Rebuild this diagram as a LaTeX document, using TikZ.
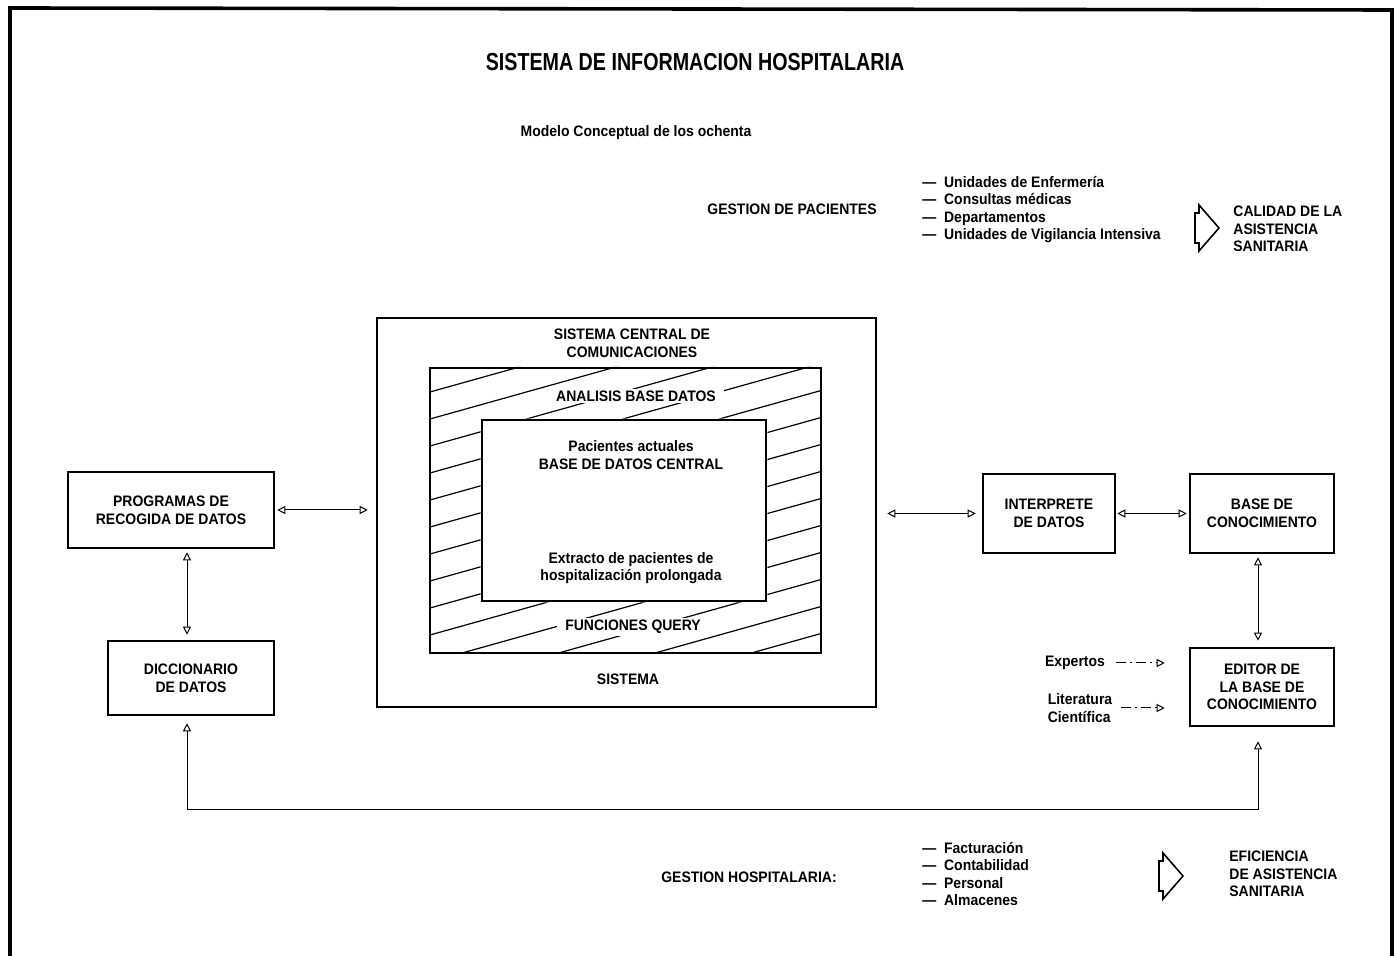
\documentclass[tikz,border=0pt]{standalone}
\usepackage{fontspec}
\setmainfont{Liberation Sans}[FakeStretch=0.92]
\newfontfamily\titulofont{Liberation Sans}[FakeStretch=0.8]
\usetikzlibrary{arrows.meta}
\newcommand{\flecha}[1]{\draw[line width=0.8pt, line join=miter, shift={(#1)}] (0,-15) -- (4,-15) -- (4,-23) -- (24,0) -- (4,23) -- (4,15) -- (0,15) -- cycle}

\begin{document}
\begin{tikzpicture}[x=0.5pt,y=-0.5pt,
    font=\bfseries\fontsize{7.6}{8.8}\selectfont,
    caja/.style={draw, line width=1.3pt, align=center, inner sep=0pt},
    etiq/.style={align=center, inner sep=1pt},
    lista/.style={align=left, anchor=west, inner sep=0pt},
    flecha2/.style={{Triangle[open,length=4pt,width=4pt]}-{Triangle[open,length=4pt,width=4pt]}, line width=0.5pt},
    punteada/.style={-{Triangle[open,length=4pt,width=4pt]}, line width=0.5pt, dash pattern=on 5pt off 2pt on 1pt off 2pt}]
    \useasboundingbox (0,0) rectangle (1399,956);

    % marco
    \draw[line width=1.8pt] (10,956) -- (10,8) -- (1392,10) -- (1392,956);

    \node (titulo) at (695,62) {\titulofont\bfseries\fontsize{12.3}{14}\selectfont SISTEMA DE INFORMACION HOSPITALARIA};
    \node (modelo) at (636,133) {Modelo Conceptual de los ochenta};

    % gestion de pacientes
    \node (gpac) at (792,209) {GESTION DE PACIENTES};
    \node[lista] (lpac) at (922,209.5) {---\ \ Unidades de Enfermería\\---\ \ Consultas médicas\\---\ \ Departamentos\\---\ \ Unidades de Vigilancia Intensiva};
    \flecha{1195,228};
    \node[lista] (calidad) at (1233,229) {CALIDAD DE LA\\ASISTENCIA\\SANITARIA};

    % sistema central
    \node[caja, minimum width=249.5pt, minimum height=194.5pt] (sist) at (626.5,512.5) {};
    \node[caja, line width=1pt, minimum width=195.5pt, minimum height=142.5pt] (anal) at (625.5,510.5) {};
    \node[caja, minimum width=142pt, minimum height=90.5pt] (cent) at (624,510.5) {};
    \begin{scope}[even odd rule]
      \clip (anal.south west) rectangle (anal.north east) (cent.south west) rectangle (cent.north east);
      \foreach \k in {-2,...,25}
        \draw[line width=0.6pt] (430,338+\k*27) -- ++(400,-112);
    \end{scope}
    \node[caja, line width=1pt, minimum width=195.5pt, minimum height=142.5pt] at (anal) {};
    \node[etiq] (comun) at (632,343.5) {SISTEMA CENTRAL DE\\COMUNICACIONES};
    \node[etiq, fill=white, inner xsep=4pt] (lanal) at (636,396) {ANALISIS BASE DATOS};
    \node[etiq] (lcent) at (631,455) {Pacientes actuales\\BASE DE DATOS CENTRAL};
    \node[etiq] (lext) at (631,568) {Extracto de pacientes de\\hospitalización prolongada};
    \node[etiq, fill=white, inner xsep=4pt] (lquery) at (633,627) {FUNCIONES QUERY};
    \node[etiq] (lsist) at (628,679) {SISTEMA};

    % cajas laterales
    \node[caja, minimum width=103pt, minimum height=38pt] (prog) at (171,510) {PROGRAMAS DE\\RECOGIDA DE DATOS};
    \node[caja, minimum width=83pt, minimum height=37pt] (dicc) at (191,678) {DICCIONARIO\\DE DATOS};
    \node[caja, minimum width=66pt, minimum height=39.5pt] (interp) at (1049,513.5) {INTERPRETE\\DE DATOS};
    \node[caja, minimum width=72pt, minimum height=39.5pt] (baseco) at (1262,513.5) {BASE DE\\CONOCIMIENTO};
    \node[caja, minimum width=72pt, minimum height=39pt] (editor) at (1262,687) {EDITOR DE\\LA BASE DE\\CONOCIMIENTO};

    \node (expertos) at (1075,663) {Expertos};
    \node[align=left] (litera) at (1080,708) {Literatura\\Científica};

    \coordinate (bizq) at (187,810);
    \coordinate (bder) at (1258,810);

    \draw[flecha2, shorten <=1pt, shorten >=4pt] (prog.east) -- (prog.east -| sist.west);
    \draw[flecha2, shorten <=5pt, shorten >=3pt] (sist.east |- interp.west) -- (interp.west);
    \draw[flecha2, shorten <=0.5pt, shorten >=1pt] (interp.east) -- (baseco.west);
    \draw[flecha2, shorten <=1.5pt, shorten >=2.5pt] (prog.south -| bizq) -- (dicc.north -| bizq);
    \draw[flecha2, shorten <=1.5pt, shorten >=3pt] (baseco.south -| bder) -- (editor.north -| bder);
    \draw[flecha2, shorten <=3.5pt, shorten >=7pt] (dicc.south -| bizq) -- (bizq) -- (bder) -- (editor.south -| bder);
    \draw[punteada, shorten <=2pt, shorten >=12pt] (expertos.east) -- (expertos.east -| editor.west);
    \draw[punteada, shorten <=1pt, shorten >=12pt] (litera.east) -- (litera.east -| editor.west);

    % gestion hospitalaria
    \node (ghosp) at (749,877) {GESTION HOSPITALARIA:};
    \node[lista] (lhosp) at (922,874) {---\ \ Facturación\\---\ \ Contabilidad\\---\ \ Personal\\---\ \ Almacenes};
    \flecha{1159,876};
    \node[lista] (eficiencia) at (1229,874) {EFICIENCIA\\DE ASISTENCIA\\SANITARIA};
\end{tikzpicture}
\end{document}
